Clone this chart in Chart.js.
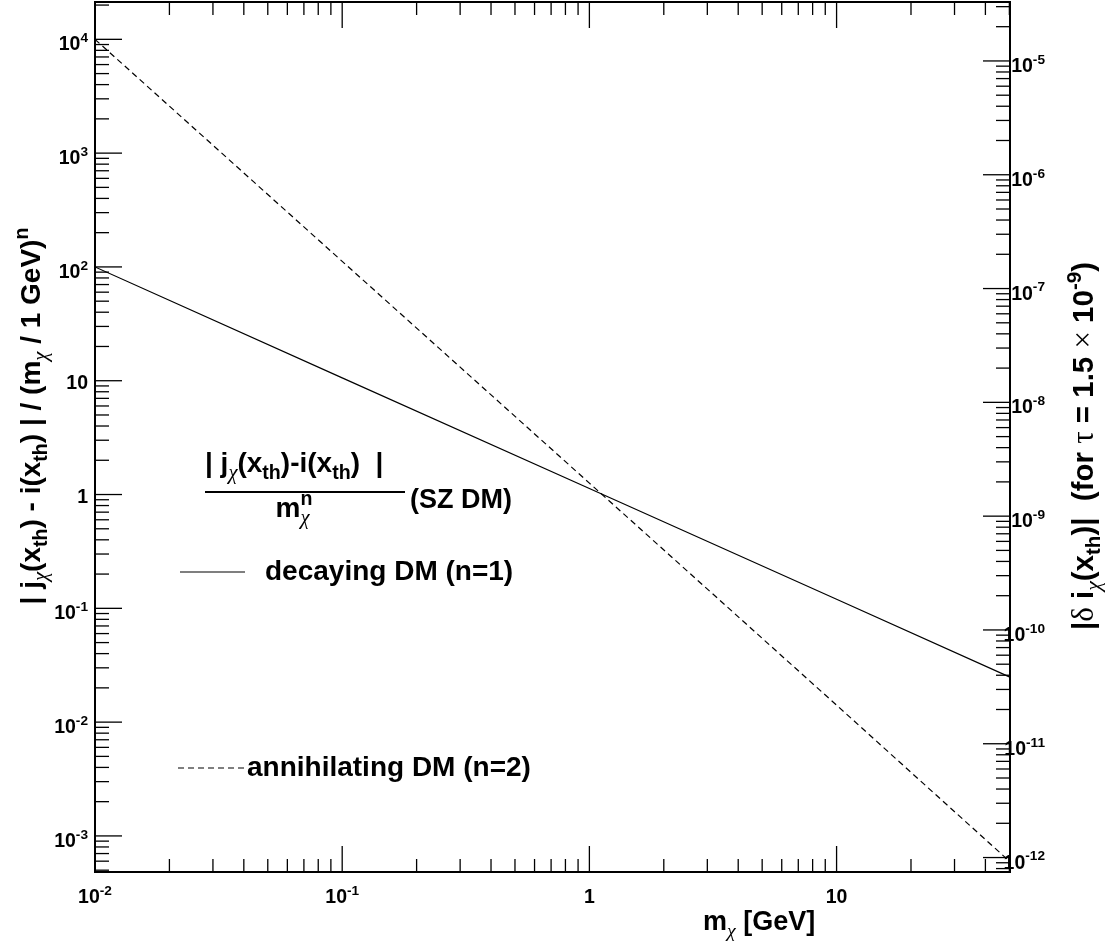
<!DOCTYPE html>
<html>
<head>
<meta charset="utf-8">
<script src="https://cdn.jsdelivr.net/npm/chart.js@4.4.0/dist/chart.umd.min.js"></script>
<style>
html, body { margin: 0; padding: 0; background: #fff; overflow: hidden; }
#wrap { position: relative; width: 1112px; height: 944px; }
</style>
</head>
<body>
<div id="wrap"><canvas id="grafica"></canvas></div>
<script>
// masa de la materia oscura (GeV)
const masas = [0.01, 0.1, 1, 10, 50];
// |j(x_th) - i(x_th)| / m^n
const decaying = [100, 10.6, 1.13, 0.12, 0.025];
const annihilating = [10000, 112, 1.26, 0.0141, 0.0006];

const xTicks = [0.01, 0.1, 1, 10];
const xTickLabels = ['10^{-2}', '10^{-1}', '1', '10'];
const yTicks = [1e-3, 1e-2, 1e-1, 1, 10, 100, 1e3, 1e4];
const yTickLabels = ['10^{-3}', '10^{-2}', '10^{-1}', '1', '10', '10^{2}', '10^{3}', '10^{4}'];
const y2Ticks = [1e-12, 1e-11, 1e-10, 1e-9, 1e-8, 1e-7, 1e-6, 1e-5];
const y2TickLabels = ['10^{-12}', '10^{-11}', '10^{-10}', '10^{-9}', '10^{-8}', '10^{-7}', '10^{-6}', '10^{-5}'];

const FONT = '"Liberation Sans", Arial, sans-serif';
const GREEK = /([α-ωΑ-Ω×])/;

// trocea "a_{b}^{c}" en partes normales / sub / super
function parse(str) {
    const parts = [];
    let buf = '', i = 0;
    while (i < str.length) {
        const c = str[i];
        if ((c === '^' || c === '_') && str[i + 1] === '{') {
            if (buf) { parts.push({ t: buf, k: 0 }); buf = ''; }
            const end = str.indexOf('}', i);
            parts.push({ t: str.slice(i + 2, end), k: c === '^' ? 1 : -1 });
            i = end + 1;
        } else { buf += c; i++; }
    }
    if (buf) parts.push({ t: buf, k: 0 });
    return parts;
}

function fontFor(ch, fs) {
    if (GREEK.test(ch)) return (ch === 'χ' ? 'italic ' : '') + fs * 1.05 + 'px "Liberation Serif", serif';
    return 'bold ' + fs + 'px ' + FONT;
}

// texto con letras griegas en otra fuente
function runWidth(ctx, text, fs) {
    let w = 0;
    text.split(GREEK).forEach(s => {
        if (!s) return;
        ctx.font = fontFor(s, fs);
        w += ctx.measureText(s).width;
    });
    return w;
}

function drawRun(ctx, text, fs, x, y) {
    text.split(GREEK).forEach(s => {
        if (!s) return;
        ctx.font = fontFor(s, fs);
        ctx.fillText(s, x, y);
        x += ctx.measureText(s).width;
    });
}

function layout(ctx, str, size) {
    const parts = parse(str);
    let x = 0;
    const out = [];
    for (let i = 0; i < parts.length; i++) {
        const p = parts[i];
        const fs = p.k ? size * 0.7 : size;
        const w = runWidth(ctx, p.t, fs);
        out.push({ t: p.t, fs: fs, x: x, dy: p.k === 1 ? -size * 0.42 : (p.k === -1 ? size * 0.25 : 0) });
        const next = parts[i + 1];
        if (p.k === -1 && next && next.k === 1) {
            const w2 = runWidth(ctx, next.t, fs);
            out.push({ t: next.t, fs: fs, x: x, dy: -size * 0.42 });
            x += Math.max(w, w2);
            i++;
        } else {
            x += w;
        }
    }
    return { items: out, width: x };
}

function drawRich(ctx, str, x, y, size, align) {
    const l = layout(ctx, str, size);
    let x0 = x;
    if (align === 'center') x0 = x - l.width / 2;
    if (align === 'right') x0 = x - l.width;
    ctx.textAlign = 'left';
    ctx.textBaseline = 'alphabetic';
    l.items.forEach(it => drawRun(ctx, it.t, it.fs, x0 + it.x, y + it.dy));
}

function drawRotated(ctx, str, x, y, size) {
    ctx.save();
    ctx.translate(x, y);
    ctx.rotate(-Math.PI / 2);
    drawRich(ctx, str, 0, 0, size, 'center');
    ctx.restore();
}

function logTicks(scale) {
    const res = [];
    const lo = Math.floor(Math.log10(scale.min));
    const hi = Math.ceil(Math.log10(scale.max));
    for (let e = lo; e <= hi; e++) {
        for (let m = 1; m <= 9; m++) {
            const v = m * Math.pow(10, e);
            if (v >= scale.min * 0.9999 && v <= scale.max * 1.0001) res.push({ v: v, major: m === 1 });
        }
    }
    return res;
}

function line(ctx, x1, y1, x2, y2) {
    ctx.beginPath();
    ctx.moveTo(x1, y1);
    ctx.lineTo(x2, y2);
    ctx.stroke();
}

const rootFrame = {
    id: 'rootFrame',
    afterDraw(chart) {
        const ctx = chart.ctx;
        const a = chart.chartArea;
        const sx = chart.scales.x, sy = chart.scales.y, sy2 = chart.scales.y2;
        ctx.save();
        ctx.strokeStyle = '#000';
        ctx.fillStyle = '#000';
        ctx.lineWidth = 1.3;

        logTicks(sx).forEach(t => {
            const px = sx.getPixelForValue(t.v);
            const len = t.major ? 26 : 13;
            line(ctx, px, a.bottom, px, a.bottom - len);
            line(ctx, px, a.top, px, a.top + len);
        });
        logTicks(sy).forEach(t => {
            const py = sy.getPixelForValue(t.v);
            line(ctx, a.left, py, a.left + (t.major ? 27 : 14), py);
        });
        logTicks(sy2).forEach(t => {
            const py = sy2.getPixelForValue(t.v);
            line(ctx, a.right, py, a.right - (t.major ? 27 : 14), py);
        });

        ctx.lineWidth = 2;
        ctx.strokeRect(a.left, a.top, a.right - a.left, a.bottom - a.top);

        // etiquetas de los ejes
        xTicks.forEach((v, i) => {
            drawRich(ctx, xTickLabels[i], sx.getPixelForValue(v), a.bottom + 31, 19.5, 'center');
        });
        yTicks.forEach((v, i) => {
            const sup = yTickLabels[i].indexOf('^') >= 0;
            drawRich(ctx, yTickLabels[i], a.left - 7, sy.getPixelForValue(v) + (sup ? 11 : 8), 19.5, 'right');
        });
        y2Ticks.forEach((v, i) => {
            drawRich(ctx, y2TickLabels[i], a.right + 35, sy2.getPixelForValue(v) + 11, 19.5, 'right');
        });

        // titulos
        drawRich(ctx, 'm_{χ} [GeV]', 703, 930, 27, 'left');
        drawRotated(ctx, '| j_{χ}(x_{th}) - i(x_{th}) | / (m_{χ} / 1 GeV)^{n}', 40, 416, 28);
        drawRotated(ctx, '|δ i_{χ}(x_{th})|  (for τ = 1.5 × 10^{-9})', 1093, 446, 29.5);

        // texto dentro del marco
        drawRich(ctx, '| j_{χ}(x_{th})-i(x_{th})  |', 205, 472, 28, 'left');
        ctx.lineWidth = 2;
        line(ctx, 205, 492, 405, 492);
        drawRich(ctx, 'm_{χ}^{n}', 294, 517, 28, 'center');
        drawRich(ctx, '(SZ DM)', 410, 508, 27, 'left');

        ctx.lineWidth = 1.2;
        line(ctx, 180, 572, 245, 572);
        drawRich(ctx, 'decaying DM (n=1)', 265, 580, 28, 'left');
        ctx.setLineDash([6, 4]);
        line(ctx, 178, 768, 245, 768);
        ctx.setLineDash([]);
        drawRich(ctx, 'annihilating DM (n=2)', 247, 776, 28, 'left');
        ctx.restore();
    }
};

const decayingDM = {
    label: 'decaying DM (n=1)',
    data: masas.map((m, i) => ({ x: m, y: decaying[i] })),
    borderColor: '#000',
    borderWidth: 1.2,
    pointRadius: 0,
    fill: false,
    tension: 0,
    yAxisID: 'y'
};

const annihilatingDM = {
    label: 'annihilating DM (n=2)',
    data: masas.map((m, i) => ({ x: m, y: annihilating[i] })),
    borderColor: '#000',
    borderWidth: 1.2,
    borderDash: [6, 4],
    pointRadius: 0,
    fill: false,
    tension: 0,
    yAxisID: 'y'
};

const config = {
    type: 'line',
    data: { datasets: [decayingDM, annihilatingDM] },
    options: {
        responsive: true,
        maintainAspectRatio: false,
        animation: false,
        events: [],
        layout: { padding: { left: 95, right: 102, top: 2, bottom: 72 } },
        plugins: { legend: { display: false }, tooltip: { enabled: false } },
        scales: {
            x: { type: 'logarithmic', display: false, bounds: 'data', min: 0.01, max: 50.3 },
            y: { type: 'logarithmic', display: false, bounds: 'data', min: Math.pow(10, -3.317), max: Math.pow(10, 4.328) },
            y2: { type: 'logarithmic', display: false, bounds: 'data', position: 'right', min: Math.pow(10, -12.127), max: Math.pow(10, -4.482) }
        }
    },
    plugins: [rootFrame]
};

new Chart(document.getElementById('grafica'), config);
</script>
</body>
</html>
